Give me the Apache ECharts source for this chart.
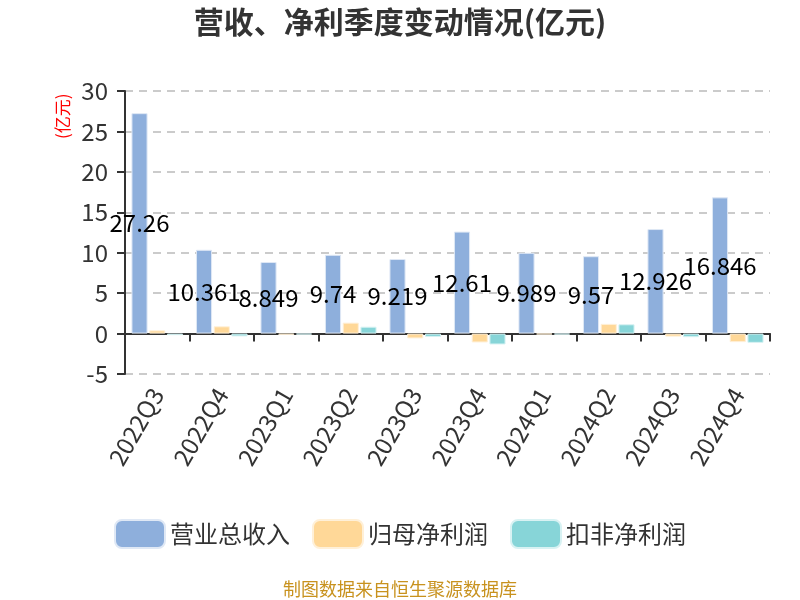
<!DOCTYPE html>
<html><head><meta charset="utf-8">
<script src="https://cdn.jsdelivr.net/npm/echarts@6/dist/echarts.min.js"></script>
<style>html,body{margin:0;padding:0;background:#fff}#c{width:800px;height:600px}</style>
</head><body><div id="c"></div>
<script>
const categories = ['2022Q3','2022Q4','2023Q1','2023Q2','2023Q3','2023Q4','2024Q1','2024Q2','2024Q3','2024Q4'];
const revenue = [27.26,10.361,8.849,9.74,9.219,12.61,9.989,9.57,12.926,16.846];
const netProfit = [0.4,0.9,-0.15,1.35,-0.6,-1.1,-0.1,1.2,-0.38,-1.06];
const deductedProfit = [-0.2,-0.35,-0.12,0.85,-0.42,-1.35,-0.12,1.15,-0.45,-1.15];
const seriesNames = ['营业总收入','归母净利润','扣非净利润'];
const yTicks = {min:-5, max:30, interval:5};

const chart = echarts.init(document.getElementById('c'));
const font = '"Noto Sans CJK SC","Noto Sans",sans-serif';
chart.setOption({
  animation:false,
  textStyle:{fontFamily:font},
  title:{text:'营收、净利季度变动情况(亿元)',left:'center',top:2,
    textStyle:{fontSize:30,fontWeight:'bold',color:'#333',fontFamily:font}},
  legend:{top:514,left:'center',itemWidth:50,itemHeight:28,itemGap:22,
    textStyle:{fontSize:24,color:'#333',fontFamily:font},
    data:seriesNames},
  graphic:[
    {type:'text',left:'center',top:580,style:{text:'制图数据来自恒生聚源数据库',fill:'#c8921e',fontSize:18,fontFamily:font}},
    {type:'text',x:54,y:139,rotation:Math.PI/2,style:{text:'(亿元)',fill:'#f00',fontSize:17,fontFamily:font}}
  ],
  grid:{left:125,right:30,top:91,bottom:226,containLabel:false},
  xAxis:{type:'category',data:categories,
    axisLine:{onZero:true,lineStyle:{color:'#333',width:2}},
    axisTick:{show:true,length:8,lineStyle:{color:'#333',width:2}},
    axisLabel:{rotate:60,fontSize:24,color:'#333',margin:16,fontFamily:font}},
  yAxis:{type:'value',min:yTicks.min,max:yTicks.max,interval:yTicks.interval,
    axisLine:{show:true,lineStyle:{color:'#333',width:2}},
    axisTick:{show:true,length:8,lineStyle:{color:'#333',width:2}},
    axisLabel:{fontSize:24,color:'#333',margin:17,fontFamily:font},
    splitLine:{lineStyle:{type:[8,6],color:'#bbb',width:1.5}}},
  series:[
    {name:seriesNames[0],type:'bar',data:revenue,barGap:'10%',barCategoryGap:'20%',
      itemStyle:{color:'#8eafdc',borderColor:'#dfe8f5',borderWidth:1},
      label:{show:true,position:'inside',color:'#000',fontSize:24,fontFamily:font}},
    {name:seriesNames[1],type:'bar',data:netProfit,
      itemStyle:{color:'#ffd898',borderColor:'#fff0d8',borderWidth:1}},
    {name:seriesNames[2],type:'bar',data:deductedProfit,
      itemStyle:{color:'#87d5d8',borderColor:'#d8f2f3',borderWidth:1}}
  ]
});
</script></body></html>
